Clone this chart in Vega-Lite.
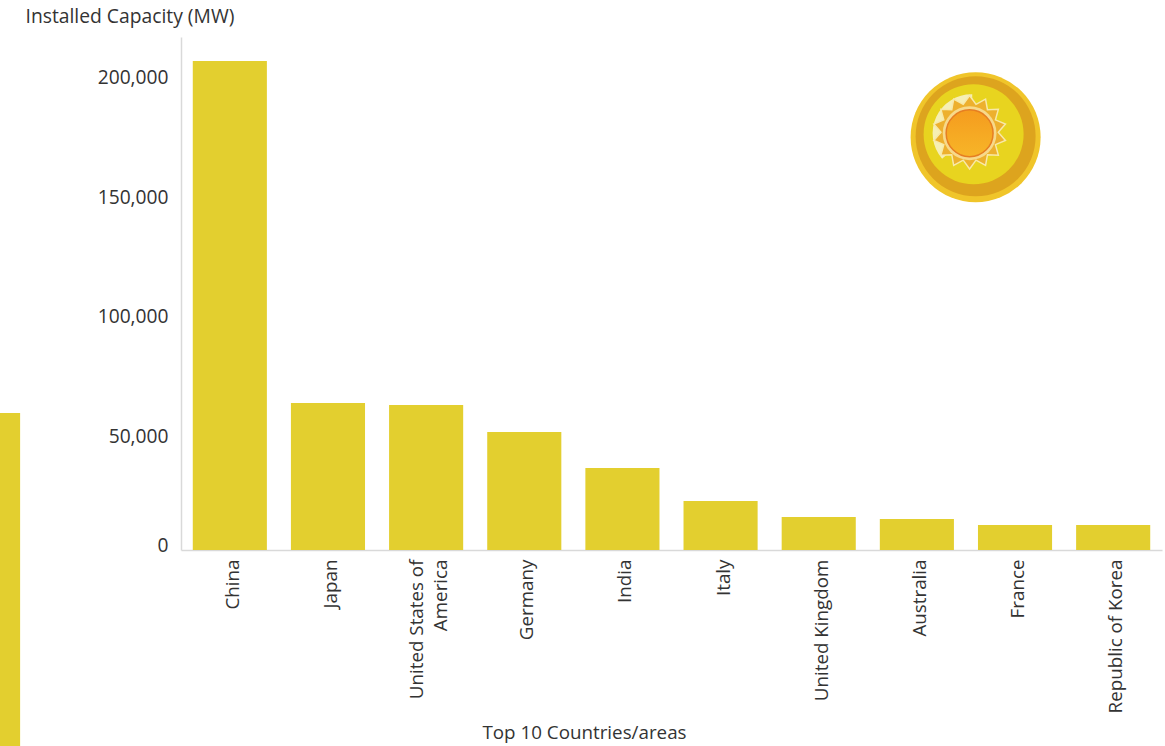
{
  "$schema": "https://vega.github.io/schema/vega-lite/v6.json",
  "width": 981,
  "height": 513,
  "autosize": {"type": "none"},
  "padding": {"left": 181, "top": 37, "right": 3, "bottom": 196},
  "background": "#ffffff",
  "config": {"view": {"stroke": null}, "font": "Open Sans"},
  "resolve": {"scale": {"x": "independent"}, "axis": {"y": "independent", "x": "independent"}},
  "layer": [
    {
      "data": {"values": [
        {"country": "China", "capacity": 204600},
        {"country": "Japan", "capacity": 61500},
        {"country": "United States of America", "capacity": 60700},
        {"country": "Germany", "capacity": 49400},
        {"country": "India", "capacity": 34300},
        {"country": "Italy", "capacity": 20500},
        {"country": "United Kingdom", "capacity": 13800},
        {"country": "Australia", "capacity": 13000},
        {"country": "France", "capacity": 10500},
        {"country": "Republic of Korea", "capacity": 10500}
      ]},
      "mark": {"type": "bar", "color": "#E3CF2F"},
      "encoding": {
        "x": {
          "field": "country", "type": "nominal", "sort": null,
          "scale": {"paddingInner": 0.245, "paddingOuter": 0.12},
          "axis": {
            "title": "Top 10 Countries/areas",
            "titleFont": "Open Sans", "titleFontSize": 18.8, "titleFontWeight": "normal", "titleColor": "#333333",
            "titleX": 403, "titleY": 192, "titleBaseline": "bottom", "titlePadding": 0,
            "labelAngle": -90, "labelAlign": "right", "labelBaseline": "middle",
            "labelFont": "Open Sans", "labelFontSize": 18.8, "labelColor": "#333333", "labelPadding": 9,
            "labelLineHeight": 24, "labelLimit": 0,
            "labelOffset": {"expr": "datum.value === 'United States of America' ? -9 : 3"},
            "labelExpr": "datum.label === 'United States of America' ? ['United States of', 'America'] : datum.label",
            "ticks": false, "domainColor": "#d9d9d9", "domainWidth": 1.5, "grid": false
          }
        },
        "y": {
          "field": "capacity", "type": "quantitative",
          "scale": {"domain": [0, 214644], "nice": false},
          "axis": {
            "title": "Installed Capacity (MW)",
            "titleFont": "Open Sans", "titleFontSize": 19.3, "titleFontWeight": "normal", "titleColor": "#333333",
            "titleAngle": 0, "titleAlign": "left", "titleBaseline": "middle", "titleX": -156, "titleY": -21,
            "values": [0, 50000, 100000, 150000, 200000],
            "labelExpr": "format(datum.value, ',')",
            "labelFont": "Open Sans", "labelFontSize": 19.2, "labelColor": "#333333", "labelPadding": 13,
            "labelOffset": {"expr": "datum.value === 0 ? -5 : 6"},
            "ticks": false, "domainColor": "#d9d9d9", "domainWidth": 1.5, "grid": false
          }
        }
      }
    },
    {
      "data": {"values": [{"slotStart": -2.4, "slotEnd": -1.64, "top": 57300, "bottom": -82000}]},
      "mark": {"type": "rect", "color": "#E3CF2F"},
      "encoding": {
        "x": {"field": "slotStart", "type": "quantitative", "scale": {"domain": [0, 10], "nice": false, "zero": false}, "axis": null},
        "x2": {"field": "slotEnd"},
        "y": {"field": "top", "type": "quantitative", "axis": null},
        "y2": {"field": "bottom"}
      }
    },
    {
      "data": {"values": [{"slot": 8.1, "capacity": 172700}]},
      "encoding": {
        "x": {"field": "slot", "type": "quantitative", "scale": {"domain": [0, 10], "nice": false, "zero": false}, "axis": null},
        "y": {"field": "capacity", "type": "quantitative", "axis": null}
      },
      "layer": [
        {"mark": {"type": "point", "shape": "circle", "filled": true, "size": 16900, "color": "#F0C52A", "opacity": 1}},
        {"mark": {"type": "point", "shape": "circle", "filled": true, "size": 14400, "color": "#DDA41E", "opacity": 1, "yOffset": -1}},
        {"mark": {"type": "point", "shape": "circle", "filled": true, "size": 10000, "color": "#E8D41F", "opacity": 1, "yOffset": -3, "xOffset": -2}},
        {"mark": {"type": "arc", "color": "#F6EFB4", "radius": 39, "radius2": 24, "theta": 4.0, "theta2": 6.3, "xOffset": -4, "yOffset": -4}},
        {"mark": {"type": "point", "filled": true, "size": 5400, "color": "#EDB02E", "stroke": "#F8E9A8", "strokeWidth": 1.5, "opacity": 1, "xOffset": -6, "yOffset": -5,
          "shape": "M0,-1L.174,-.76L.434,-.901L.486,-.61L.782,-.623L.703,-.338L.975,-.223L.78,0L.975,.223L.703,.338L.782,.623L.486,.61L.434,.901L.174,.76L0,1L-.174,.76L-.434,.901L-.486,.61L-.782,.623L-.703,.338L-.975,.223L-.78,0L-.975,-.223L-.703,-.338L-.782,-.623L-.486,-.61L-.434,-.901L-.174,-.76Z"}},
        {"mark": {"type": "point", "shape": "circle", "filled": true, "size": 2900, "color": "#F7D98A", "opacity": 1, "xOffset": -6, "yOffset": -4}},
        {"mark": {"type": "point", "shape": "circle", "filled": true, "size": 2200, "opacity": 1, "xOffset": -6, "yOffset": -4, "stroke": "#E67E22", "strokeWidth": 1.5,
          "color": {"gradient": "linear", "x1": 0, "y1": 0, "x2": 0, "y2": 1, "stops": [{"offset": 0, "color": "#F59C1E"}, {"offset": 1, "color": "#F7B528"}]}}}
      ]
    }
  ]
}
